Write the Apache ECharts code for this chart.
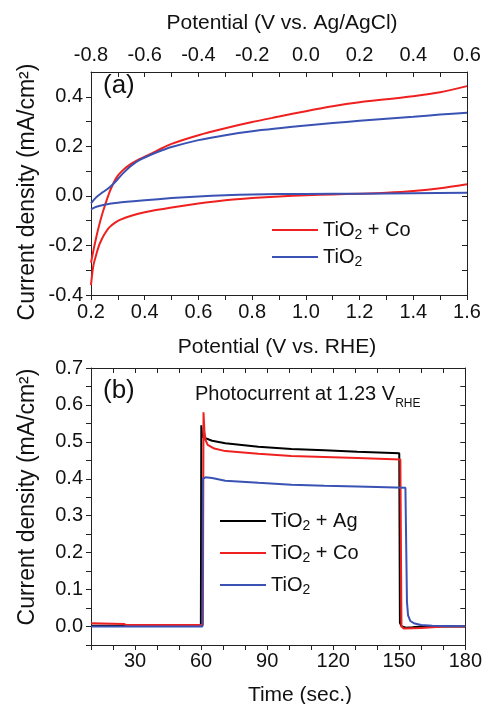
<!DOCTYPE html>
<html>
<head>
<meta charset="utf-8">
<script src="https://cdn.jsdelivr.net/npm/echarts@6/dist/echarts.min.js"></script>
<style>
html, body { margin: 0; padding: 0; background: #fff; }
#chart { width: 485px; height: 704px; }
</style>
</head>
<body>
<div id="chart"></div>
<script>
// (a) LSV, potential vs RHE
var coUpV = [0.2, 0.21, 0.22, 0.23, 0.24, 0.25, 0.26, 0.27, 0.28, 0.29, 0.30, 0.32, 0.34, 0.36, 0.38, 0.4, 0.45, 0.5, 0.6, 0.7, 0.8, 0.9, 1.0, 1.1, 1.2, 1.3, 1.4, 1.5, 1.6];
var coUpJ = [-0.27, -0.215, -0.165, -0.12, -0.08, -0.045, -0.012, 0.018, 0.043, 0.065, 0.082, 0.105, 0.122, 0.136, 0.148, 0.158, 0.185, 0.21, 0.245, 0.273, 0.298, 0.32, 0.342, 0.362, 0.378, 0.39, 0.402, 0.418, 0.443];
var coLowV = [0.2, 0.205, 0.21, 0.22, 0.23, 0.24, 0.25, 0.26, 0.27, 0.29, 0.31, 0.35, 0.4, 0.5, 0.6, 0.7, 0.8, 0.9, 1.0, 1.1, 1.2, 1.3, 1.4, 1.5, 1.6];
var coLowJ = [-0.36, -0.31, -0.275, -0.235, -0.2, -0.175, -0.155, -0.138, -0.125, -0.108, -0.096, -0.08, -0.066, -0.047, -0.031, -0.018, -0.009, -0.002, 0.003, 0.006, 0.009, 0.013, 0.02, 0.031, 0.047];
var tiUpV = [0.2, 0.22, 0.24, 0.26, 0.28, 0.30, 0.32, 0.34, 0.36, 0.38, 0.4, 0.45, 0.5, 0.6, 0.7, 0.8, 0.9, 1.0, 1.1, 1.2, 1.3, 1.4, 1.5, 1.6];
var tiUpJ = [-0.03, -0.005, 0.012, 0.027, 0.045, 0.068, 0.092, 0.113, 0.13, 0.144, 0.155, 0.178, 0.197, 0.225, 0.245, 0.261, 0.273, 0.284, 0.294, 0.303, 0.311, 0.319, 0.328, 0.336];
var tiLowV = [0.2, 0.22, 0.25, 0.3, 0.4, 0.5, 0.6, 0.7, 0.8, 1.0, 1.2, 1.4, 1.6];
var tiLowJ = [-0.054, -0.044, -0.036, -0.028, -0.018, -0.009, -0.002, 0.003, 0.006, 0.008, 0.009, 0.011, 0.013];

// (b) photocurrent vs time
var agT = [10, 30, 59.9, 60.1, 60.4, 61, 65, 71, 86, 101, 116, 131, 150, 150.3, 151, 153, 156, 160, 180];
var agJ = [0.002, 0.002, 0.003, 0.545, 0.52, 0.512, 0.503, 0.496, 0.487, 0.481, 0.477, 0.473, 0.469, 0.01, 0.001, -0.003, -0.002, 0, 0];
var coT = [10, 25, 26, 60.8, 61.1, 61.5, 62, 63, 66, 71, 86, 101, 116, 131, 150.5, 151, 152, 160, 165, 170, 180];
var coJ = [0.009, 0.007, 0.004, 0.004, 0.58, 0.53, 0.505, 0.492, 0.482, 0.475, 0.468, 0.462, 0.459, 0.456, 0.452, 0.0, -0.005, -0.004, -0.002, 0, 0];
var tiT = [10, 60.6, 60.8, 62, 65, 71, 86, 101, 116, 131, 152.8, 153.2, 153.5, 154, 155, 157, 160, 165, 180];
var tiJ = [0, 0, 0.40, 0.404, 0.402, 0.395, 0.389, 0.384, 0.381, 0.379, 0.376, 0.2, 0.066, 0.03, 0.015, 0.008, 0.004, 0.002, 0.001];

var legendText = {
  aCo: 'TiO{s|2} + Co', aTi: 'TiO{s|2}',
  bAg: 'TiO{s|2} + Ag', bCo: 'TiO{s|2} + Co', bTi: 'TiO{s|2}'
};

var RED = '#ef2020', BLUE = '#3a52b4', BLACK = '#000000', AXIS = '#222222';
var FONT = 'Liberation Sans, Arial, sans-serif';

function pairs(xs, ys) {
  var out = [];
  for (var i = 0; i < xs.length; i++) out.push([xs[i], ys[i]]);
  return out;
}

function everyOther(v) {
  var k = Math.round(v * 10);
  return (k % 2 === 0) ? (k / 10).toFixed(1) : '';
}

var lbl = { fontSize: 20, color: '#111', fontFamily: FONT };

function axisBase(extra) {
  var o = {
    type: 'value',
    axisLine: { show: true, onZero: false, lineStyle: { color: AXIS, width: 1 } },
    axisTick: { show: true, length: 5, lineStyle: { color: AXIS } },
    splitLine: { show: false },
    axisLabel: { show: false }
  };
  for (var k in extra) o[k] = extra[k];
  return o;
}

function line(name, data, color, xi, yi, smooth) {
  return {
    name: name, type: 'line', data: data, xAxisIndex: xi, yAxisIndex: yi,
    symbol: 'none', showSymbol: false, smooth: smooth ? 0.25 : false,
    lineStyle: { color: color, width: 2 }, itemStyle: { color: color },
    animation: false
  };
}

function legendBox(names, left, top, gap) {
  return {
    data: names, orient: 'vertical', left: left, top: top, padding: 0,
    icon: 'rect', itemWidth: 46, itemHeight: 2, itemGap: gap, selectedMode: false,
    formatter: function (n) { return legendText[n]; },
    textStyle: { fontSize: 20, color: '#111', fontFamily: FONT, lineHeight: 24,
      rich: { s: { fontSize: 14, fontFamily: FONT, color: '#111', verticalAlign: 'bottom', lineHeight: 14 } } }
  };
}

var myChart = echarts.init(document.getElementById('chart'));

var option = {
  backgroundColor: '#fff',
  animation: false,
  grid: [
    { left: 91, right: 18, top: 72, height: 223 },
    { left: 91, right: 18, top: 368, height: 277 }
  ],
  xAxis: [
    axisBase({ gridIndex: 0, position: 'bottom', min: 0.2, max: 1.6, interval: 0.1,
      axisLabel: Object.assign({ show: true, margin: 7, formatter: everyOther }, lbl) }),
    axisBase({ gridIndex: 0, position: 'top', min: -0.8, max: 0.6, interval: 0.1,
      axisTick: { show: true, inside: true, length: 5, lineStyle: { color: AXIS } },
      axisLabel: Object.assign({ show: true, margin: 7, formatter: everyOther }, lbl) }),
    axisBase({ gridIndex: 1, position: 'bottom', min: 10, max: 180, interval: 10,
      axisLabel: Object.assign({ show: true, margin: 6, formatter: function (v) {
        return (Math.round(v) % 30 === 0) ? String(Math.round(v)) : '';
      } }, lbl) }),
    axisBase({ gridIndex: 1, position: 'top', min: 10, max: 180, interval: 10,
      axisTick: { show: true, inside: true, length: 5, lineStyle: { color: AXIS } } })
  ],
  yAxis: [
    axisBase({ gridIndex: 0, position: 'left', min: -0.4, max: 0.5, interval: 0.1,
      axisLabel: Object.assign({ show: true, margin: 8, showMaxLabel: false, formatter: function (v) {
        var k = Math.round(v * 10);
        return (k % 2 === 0 && k < 5) ? (k / 10).toFixed(1) : '';
      } }, lbl) }),
    axisBase({ gridIndex: 0, position: 'right', min: -0.4, max: 0.5, interval: 0.1,
      axisTick: { show: true, inside: true, length: 5, lineStyle: { color: AXIS } } }),
    axisBase({ gridIndex: 1, position: 'left', min: -0.05, max: 0.7, interval: 0.05,
      axisLabel: Object.assign({ show: true, margin: 8, formatter: function (v) {
        var k = Math.round(v * 100);
        return (k % 10 === 0) ? (k / 100).toFixed(1) : '';
      } }, lbl) }),
    axisBase({ gridIndex: 1, position: 'right', min: -0.05, max: 0.7, interval: 0.05,
      axisTick: { show: true, inside: true, length: 5, lineStyle: { color: AXIS } } })
  ],
  legend: [
    legendBox(['aCo', 'aTi'], 272, 218, 3),
    legendBox(['bAg', 'bCo', 'bTi'], 220, 509, 8)
  ],
  graphic: [
    { type: 'text', x: 282, y: 23, style: { text: 'Potential (V vs. Ag/AgCl)', font: '21px ' + FONT, fill: '#111', textAlign: 'center', textVerticalAlign: 'middle' } },
    { type: 'text', x: 277, y: 347, style: { text: 'Potential (V vs. RHE)', font: '21px ' + FONT, fill: '#111', textAlign: 'center', textVerticalAlign: 'middle' } },
    { type: 'text', x: 300, y: 695, style: { text: 'Time (sec.)', font: '21px ' + FONT, fill: '#111', textAlign: 'center', textVerticalAlign: 'middle' } },
    { type: 'text', x: 28, y: 192, rotation: Math.PI / 2, style: { text: 'Current density (mA/cm²)', font: '23px ' + FONT, fill: '#111', textAlign: 'center', textVerticalAlign: 'middle' } },
    { type: 'text', x: 28, y: 497, rotation: Math.PI / 2, style: { text: 'Current density (mA/cm²)', font: '23px ' + FONT, fill: '#111', textAlign: 'center', textVerticalAlign: 'middle' } },
    { type: 'text', x: 103, y: 86, style: { text: '(a)', font: '26px ' + FONT, fill: '#111', textAlign: 'left', textVerticalAlign: 'middle' } },
    { type: 'text', x: 103, y: 391, style: { text: '(b)', font: '26px ' + FONT, fill: '#111', textAlign: 'left', textVerticalAlign: 'middle' } },
    { type: 'text', x: 195, y: 384, style: {
      text: '{m|Photocurrent at 1.23 V}{s|RHE}', textAlign: 'left', textVerticalAlign: 'top',
      rich: {
        m: { fontSize: 20, fontFamily: FONT, fill: '#111', lineHeight: 24, verticalAlign: 'top' },
        s: { fontSize: 12, fontFamily: FONT, fill: '#111', lineHeight: 12, verticalAlign: 'bottom', padding: [0, 0, -2, 0] }
      } } }
  ],
  series: [
    line('aCo', pairs(coUpV, coUpJ), RED, 0, 0, true),
    line('aCo', pairs(coLowV, coLowJ), RED, 0, 0, true),
    line('aTi', pairs(tiUpV, tiUpJ), BLUE, 0, 0, true),
    line('aTi', pairs(tiLowV, tiLowJ), BLUE, 0, 0, true),
    line('bAg', pairs(agT, agJ), BLACK, 2, 2, false),
    line('bCo', pairs(coT, coJ), RED, 2, 2, false),
    line('bTi', pairs(tiT, tiJ), BLUE, 2, 2, false)
  ]
};

myChart.setOption(option);
</script>
</body>
</html>
